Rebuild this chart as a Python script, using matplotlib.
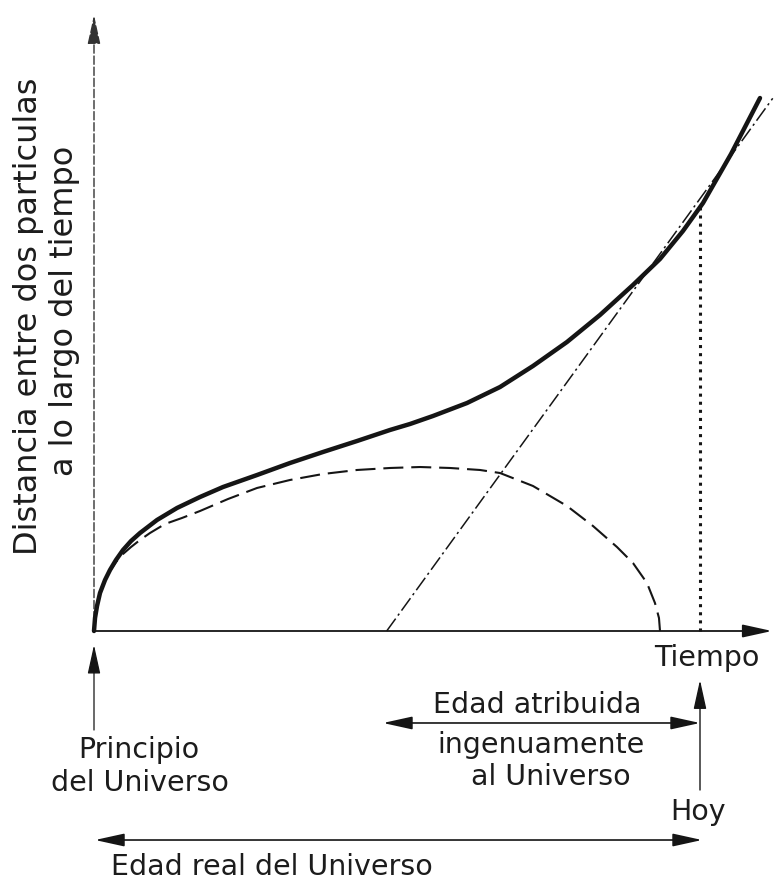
import matplotlib.pyplot as plt

# distance between two particles vs time (arbitrary units, today = 10)
t_open = [0, 0.017, 0.050, 0.099, 0.182, 0.264, 0.363, 0.479, 0.611, 0.759,
          1.040, 1.370, 1.749, 2.129, 2.690, 3.234, 3.779, 4.340, 4.884, 5.215,
          5.594, 6.155, 6.700, 7.244, 7.805, 8.350, 8.894, 9.340, 9.719, 10.050,
          10.512, 10.990]
d_open = [0, 0.215, 0.413, 0.627, 0.842, 1.007, 1.172, 1.337, 1.485, 1.617,
          1.832, 2.030, 2.211, 2.376, 2.574, 2.772, 2.954, 3.135, 3.317, 3.416,
          3.548, 3.762, 4.026, 4.373, 4.769, 5.215, 5.710, 6.139, 6.601, 7.063,
          7.871, 8.795]

t_closed = [0, 0.017, 0.050, 0.099, 0.182, 0.264, 0.363, 0.479, 0.611, 0.759,
            0.924, 1.172, 1.452, 1.749, 2.211, 2.690, 3.234, 3.779, 4.340, 4.884,
            5.380, 5.875, 6.370, 6.700, 7.244, 7.805, 8.234, 8.630, 8.894, 9.125,
            9.257, 9.323, 9.340]
d_closed = [0, 0.215, 0.413, 0.627, 0.842, 0.990, 1.139, 1.271, 1.386, 1.502,
            1.617, 1.766, 1.865, 1.980, 2.178, 2.360, 2.492, 2.591, 2.657, 2.690,
            2.706, 2.690, 2.657, 2.607, 2.393, 2.063, 1.733, 1.386, 1.122, 0.792,
            0.462, 0.215, 0]

# naive linear extrapolation from today
t_naive = [4.83, 11.2]
d_naive = [0, 8.79]

t_today = 10.0
d_today = 6.99

px = 60.6  # pixels per unit
fig = plt.figure(figsize=(7.74, 8.80), dpi=100)
ax = fig.add_axes([0, 0, 1, 1])
ax.set_xlim(-94 / px, (774 - 94) / px)
ax.set_ylim(-(880 - 631) / px, 631 / px)
ax.axis("off")

ink = "#151515"
font = dict(family="DejaVu Sans", color="#1c1c1c")

ax.plot(t_open, d_open, color=ink, lw=3.2, solid_capstyle="round",
        solid_joinstyle="round", zorder=5)
ax.plot(t_closed, d_closed, color=ink, lw=1.5, linestyle=(0, (9.6, 3.8)), zorder=4)
ax.plot(t_naive, d_naive, color=ink, lw=1.1, linestyle=(0, (10, 2.5, 1.5, 2.5)), zorder=4)
ax.plot([t_today, t_today], [0, d_today], color=ink, lw=2.2, linestyle=":", zorder=4)

head = "-|>,head_length=1.0,head_width=0.22"
both = "<|-|>,head_length=1.0,head_width=0.22"


def arrow(x0, y0, x1, y1, style=head, ls="-", lw=1.0, color=ink):
    ax.annotate("", xy=(x1, y1), xytext=(x0, y0),
                arrowprops=dict(arrowstyle=style, color=color, lw=lw, ls=ls,
                                mutation_scale=18, shrinkA=0, shrinkB=0))


# axes
arrow(0, 0, 0, 10.165, lw=1.0, ls=(0, (6, 2)), color="#333333")
arrow(0, 0, 11.188, 0, lw=1.3)

# markers below the time axis
arrow(0, -1.634, 0, -0.231, lw=0.9)
arrow(t_today, -2.624, t_today, -0.809, lw=1.0)
arrow(4.769, -1.518, t_today, -1.518, style=both, lw=1.2)
arrow(0.017, -3.449, 10.033, -3.449, style=both, lw=1.2)

fs = 20.5
ax.text(10.12, -0.446, "Tiempo", ha="center", va="center", fontsize=fs, **font)
ax.text(9.967, -2.987, "Hoy", ha="center", va="center", fontsize=fs, **font)
ax.text(0.743, -1.964, "Principio", ha="center", va="center", fontsize=fs, **font)
ax.text(0.759, -2.508, "del Universo", ha="center", va="center", fontsize=fs, **font)
ax.text(7.310, -1.221, "Edad atribuida", ha="center", va="center", fontsize=fs, **font)
ax.text(7.376, -1.881, "ingenuamente", ha="center", va="center", fontsize=fs, **font)
ax.text(7.541, -2.409, "al Universo", ha="center", va="center", fontsize=fs, **font)
ax.text(2.937, -3.894, "Edad real del Universo", ha="center", va="center", fontsize=fs, **font)

ax.text(-1.089, 5.198, "Distancia entre dos particulas", rotation=90,
        ha="center", va="center", fontsize=23, **font)
ax.text(-0.479, 5.281, "a lo largo del tiempo", rotation=90,
        ha="center", va="center", fontsize=23, **font)

fig.savefig("out.png", dpi=100, facecolor="white")
